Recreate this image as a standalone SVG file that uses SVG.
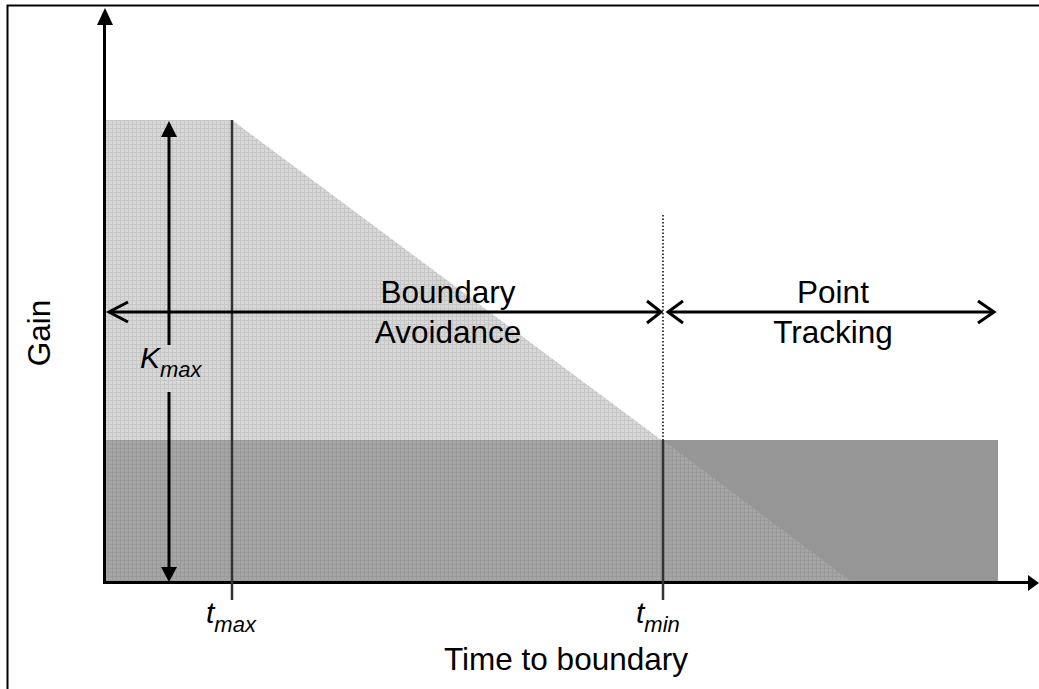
<svg xmlns="http://www.w3.org/2000/svg" width="1039" height="689" viewBox="0 0 1039 689">
<style>
text{font-family:"Liberation Sans",Arial,sans-serif;fill:#000}
.lbl{font-size:31.5px}
.it{font-style:italic}
.ax{stroke:#000;stroke-width:3;fill:none}
.dbl{stroke:#000;stroke-width:3;fill:none;stroke-linejoin:miter}
.tick{stroke:#333;stroke-width:2.5}
</style>
<defs>
<pattern id="gl" width="4" height="4" patternUnits="userSpaceOnUse">
<rect width="4" height="4" fill="#d8d8d8"/>
<path d="M0 0.5H4M0.5 0V4" stroke="#c6c6c6" stroke-width="1"/>
</pattern>
<pattern id="gd" width="4" height="4" patternUnits="userSpaceOnUse">
<rect width="4" height="4" fill="#a6a6a6"/>
<path d="M0 0.5H4M0.5 0V4" stroke="#9a9a9a" stroke-width="1"/>
</pattern>
</defs>
<rect width="1039" height="689" fill="#fff"/>
<path d="M7.5 689V5.5H1039" stroke="#000" stroke-width="2" fill="none"/>
<g id="regions">
<polygon points="106,120 232,120 852,582 106,582" fill="url(#gl)"/>
<rect x="106" y="440" width="892" height="142" fill="#969696"/>
<polygon points="106,440 663,440 852,582 106,582" fill="url(#gd)"/>
</g>
<g id="connectors">
<line class="ax" x1="104.5" y1="584" x2="104.5" y2="22"/>
<polygon points="105,8 97,25 113,25" fill="#000"/>
<line class="ax" x1="103" y1="582.5" x2="1030" y2="582.5"/>
<polygon points="1039,583 1028,575 1028,591" fill="#000"/>
<line class="tick" x1="232" y1="120" x2="232" y2="600"/>
<line class="tick" x1="663" y1="440" x2="663" y2="600"/>
<line x1="663" y1="215" x2="663" y2="440" stroke="#000" stroke-width="1.5" stroke-dasharray="1.5 2"/>
<line class="ax" x1="169" y1="134" x2="169" y2="345"/>
<line class="ax" x1="169" y1="392" x2="169" y2="570"/>
<polygon points="169,121 161,137 177,137" fill="#000"/>
<polygon points="169,582 161,567 177,567" fill="#000"/>
<line class="dbl" x1="109" y1="312" x2="661" y2="312"/>
<path class="dbl" d="M128 302L109 312L128 322"/>
<path class="dbl" d="M647 301L661 312L647 323"/>
<line class="dbl" x1="668" y1="312" x2="994" y2="312"/>
<path class="dbl" d="M683 301L668 312L683 323"/>
<path class="dbl" d="M978 301L994 312L978 323"/>
</g>
<g id="label-boundary"><text class="lbl" x="448" y="303" text-anchor="middle">Boundary</text><text class="lbl" x="448" y="343" text-anchor="middle">Avoidance</text></g>
<g id="label-point"><text class="lbl" x="833" y="303" text-anchor="middle">Point</text><text class="lbl" x="833" y="343" text-anchor="middle">Tracking</text></g>
<g id="label-kmax"><text class="it" x="140" y="368" font-size="30px">K<tspan font-size="22px" dy="9">max</tspan></text></g>
<g id="label-tmax"><text class="it" x="206" y="623" font-size="30px">t<tspan font-size="22px" dy="9">max</tspan></text></g>
<g id="label-tmin"><text class="it" x="636" y="623" font-size="30px">t<tspan font-size="22px" dy="9">min</tspan></text></g>
<g id="label-x"><text class="lbl" x="566" y="670" text-anchor="middle">Time to boundary</text></g>
<g id="label-y"><text class="lbl" transform="translate(50,333) rotate(-90)" text-anchor="middle">Gain</text></g>
</svg>
